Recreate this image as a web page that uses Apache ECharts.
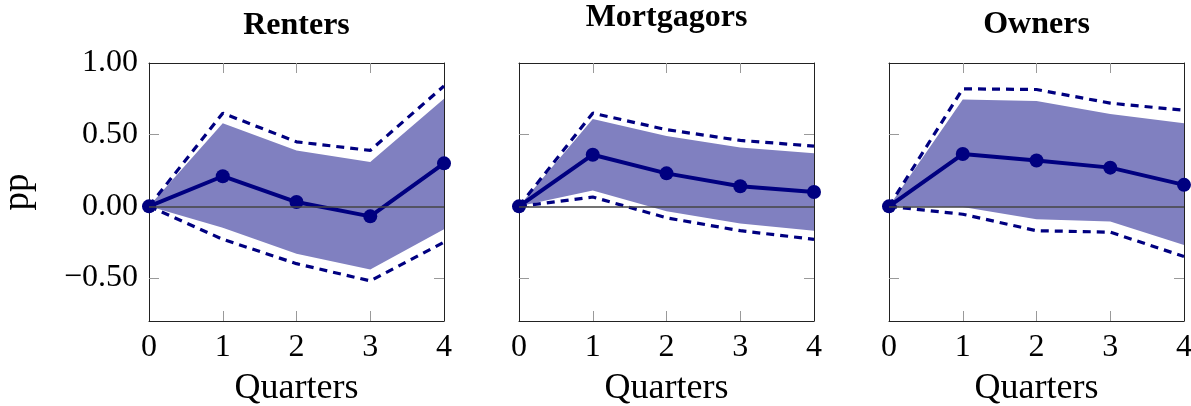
<!DOCTYPE html>
<html>
<head>
<meta charset="utf-8">
<script src="https://cdn.jsdelivr.net/npm/echarts@6/dist/echarts.min.js"></script>
<style>
html,body{margin:0;padding:0;background:#fff;}
#c{width:1191px;height:406px;}
</style>
</head>
<body>
<div id="c"></div>
<script>
// ---- data ----
const quarters = [0, 1, 2, 3, 4];
const yTickValues = [-0.5, 0, 0.5, 1.0];
const panelTitles = ['Renters', 'Mortgagors', 'Owners'];

const rentersMean   = [0, 0.21, 0.03, -0.07, 0.30];
const rentersBandHi = [0, 0.58, 0.39, 0.31, 0.75];
const rentersBandLo = [0, -0.15, -0.33, -0.44, -0.16];
const rentersCiHi   = [0, 0.65, 0.45, 0.39, 0.84];
const rentersCiLo   = [0, -0.23, -0.40, -0.52, -0.25];

const mortMean   = [0, 0.36, 0.23, 0.14, 0.10];
const mortBandHi = [0, 0.61, 0.49, 0.41, 0.37];
const mortBandLo = [0, 0.11, -0.035, -0.12, -0.17];
const mortCiHi   = [0, 0.65, 0.535, 0.46, 0.42];
const mortCiLo   = [0, 0.065, -0.08, -0.17, -0.23];

const ownMean   = [0, 0.365, 0.32, 0.27, 0.15];
const ownBandHi = [0, 0.745, 0.735, 0.645, 0.58];
const ownBandLo = [0, -0.005, -0.09, -0.105, -0.27];
const ownCiHi   = [0, 0.82, 0.815, 0.72, 0.67];
const ownCiLo   = [0, -0.055, -0.17, -0.18, -0.35];

// ---- chart ----
const panels = [
  {mean: rentersMean, bandHi: rentersBandHi, bandLo: rentersBandLo, ciHi: rentersCiHi, ciLo: rentersCiLo},
  {mean: mortMean, bandHi: mortBandHi, bandLo: mortBandLo, ciHi: mortCiHi, ciLo: mortCiLo},
  {mean: ownMean, bandHi: ownBandHi, bandLo: ownBandLo, ciHi: ownCiHi, ciLo: ownCiLo}
];
const FONT = 'Liberation Serif';
const NAVY = '#000080';
const BAND = '#8080c0';
const FRAME = '#222';
const TICK = '#9a9a9a';
const gridLefts = [149, 519, 889];
const gridW = 295;
const titleY = [26, 18, 25];

const grids = [], xAxes = [], yAxes = [], series = [], graphics = [];
const pairs = arr => quarters.map((q, k) => [q, arr[k]]);
const fmt = v => {
  const s = Math.abs(v).toFixed(2);
  return v < 0 ? '\u2212' + s : s;
};

panels.forEach((p, i) => {
  grids.push({left: gridLefts[i], top: 63, width: gridW, height: 258, containLabel: false, outerBoundsMode: 'none'});
  const xBase = {gridIndex: i, type: 'value', min: 0, max: 4, interval: 1,
    splitLine: {show: false},
    axisLine: {show: true, onZero: false, lineStyle: {color: FRAME, width: 1}},
    axisTick: {show: true, inside: true, length: 10, customValues: [1, 2, 3], lineStyle: {color: TICK, width: 1}}};
  xAxes.push(Object.assign({}, xBase, {position: 'bottom',
    axisLabel: {show: true, fontFamily: FONT, fontSize: 32, color: '#000', margin: 11},
    name: 'Quarters', nameLocation: 'middle', nameGap: 50,
    nameTextStyle: {fontFamily: FONT, fontSize: 36, color: '#000'}}));
  xAxes.push(Object.assign({}, xBase, {position: 'top', axisLabel: {show: false}}));
  const yBase = {gridIndex: i, type: 'value', min: -0.8, max: 1.0,
    splitLine: {show: false},
    axisLine: {show: true, onZero: false, lineStyle: {color: FRAME, width: 1}},
    axisTick: {show: true, inside: true, length: 10, customValues: [-0.5, 0, 0.5], lineStyle: {color: TICK, width: 1}}};
  yAxes.push(Object.assign({}, yBase, {position: 'left',
    axisLabel: {show: i === 0, customValues: yTickValues, formatter: fmt, fontFamily: FONT, fontSize: 32, color: '#000', margin: 11},
    name: i === 0 ? 'pp' : '', nameLocation: 'middle', nameRotate: 90, nameGap: 112,
    nameTextStyle: {fontFamily: FONT, fontSize: 37, color: '#000'}}));
  yAxes.push(Object.assign({}, yBase, {position: 'right', axisLabel: {show: false}}));

  const xi = i * 2, yi = i * 2;
  series.push({
    type: 'custom', xAxisIndex: xi, yAxisIndex: yi, data: [[0, 0]], z: 1, silent: true,
    renderItem: (params, api) => {
      const pts = [];
      quarters.forEach((q, k) => pts.push(api.coord([q, p.bandHi[k]])));
      for (let k = quarters.length - 1; k >= 0; k--) pts.push(api.coord([quarters[k], p.bandLo[k]]));
      return {type: 'polygon', shape: {points: pts}, style: {fill: BAND}};
    }
  });
  series.push({
    type: 'line', xAxisIndex: xi, yAxisIndex: yi, data: pairs(p.ciHi), symbol: 'none', z: 2,
    lineStyle: {color: NAVY, width: 3.2, type: [8, 6]},
    markLine: {silent: true, symbol: ['none', 'none'], label: {show: false},
      lineStyle: {color: '#444', width: 1.6, type: 'solid'}, data: [{yAxis: 0}]}
  });
  series.push({
    type: 'line', xAxisIndex: xi, yAxisIndex: yi, data: pairs(p.ciLo), symbol: 'none', z: 2,
    lineStyle: {color: NAVY, width: 3.2, type: [8, 6]}
  });
  series.push({
    type: 'line', xAxisIndex: xi, yAxisIndex: yi, data: pairs(p.mean), symbol: 'circle', symbolSize: 14,
    clip: false, z: 3,
    lineStyle: {color: NAVY, width: 4}, itemStyle: {color: NAVY}
  });

  graphics.push({type: 'text', x: gridLefts[i] + gridW / 2, y: titleY[i],
    style: {text: panelTitles[i], font: 'bold 32px "Liberation Serif"', fill: '#000', textAlign: 'center', textVerticalAlign: 'middle'}});
});

const chart = echarts.init(document.getElementById('c'), null, {renderer: 'canvas'});
chart.setOption({
  animation: false,
  backgroundColor: '#fff',
  grid: grids,
  xAxis: xAxes,
  yAxis: yAxes,
  series: series,
  graphic: graphics
});
</script>
</body>
</html>
